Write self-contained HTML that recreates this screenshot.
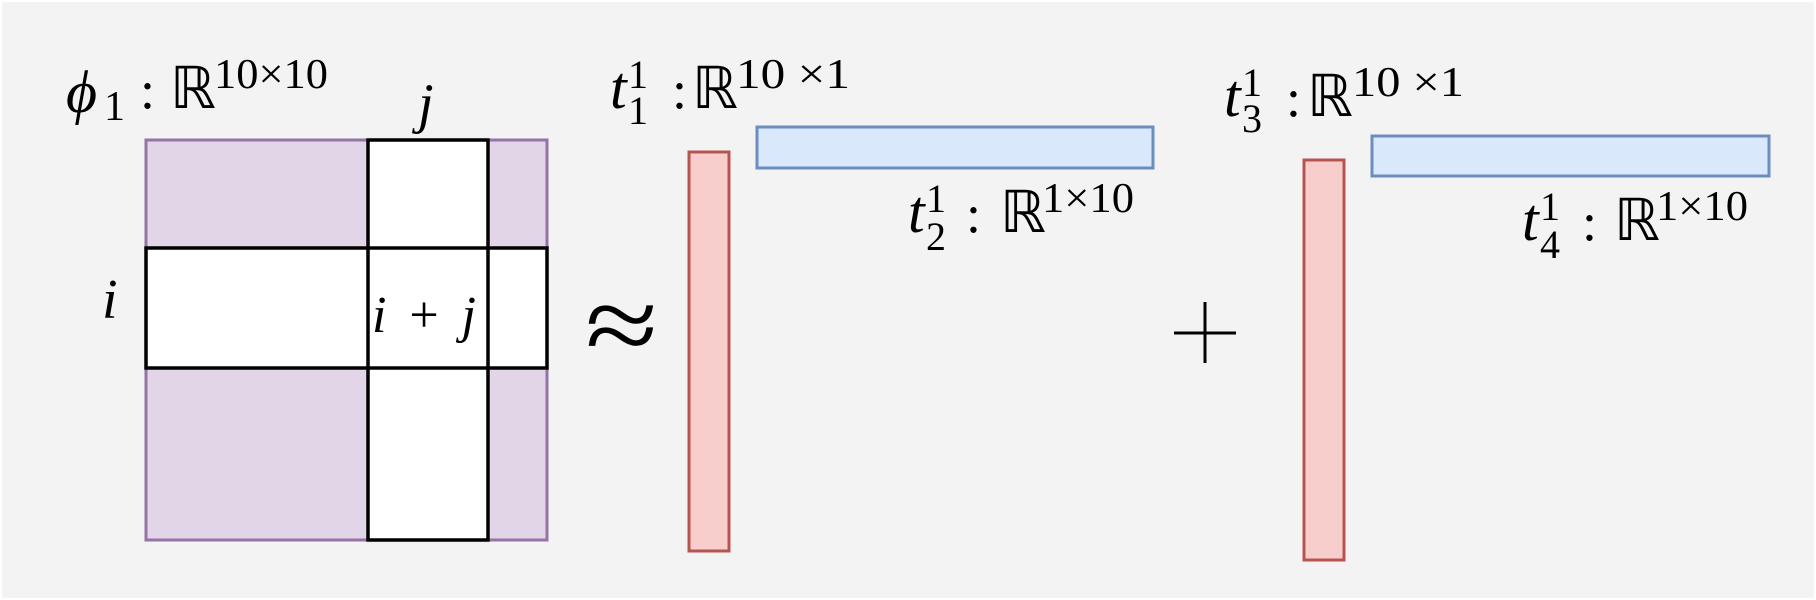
<!DOCTYPE html>
<html><head><meta charset="utf-8"><style>
html,body{margin:0;padding:0;background:#fff;}
svg{display:block}
text{font-family:"Liberation Serif",serif;fill:#000}
.it{font-style:italic}
</style></head><body>
<svg width="1816" height="600" viewBox="0 0 1816 600" xmlns="http://www.w3.org/2000/svg">
<rect x="2" y="2" width="1812" height="596" fill="#f3f3f3"/>
<rect x="146" y="140" width="401" height="400" fill="#e1d5e7" stroke="#9673a6" stroke-width="3"/>
<rect x="368" y="140" width="120" height="400" fill="#fff" stroke="#000" stroke-width="3.5"/>
<rect x="146" y="248" width="401" height="120" fill="#fff" stroke="#000" stroke-width="3.5"/>
<line x1="368" y1="248" x2="368" y2="368" stroke="#000" stroke-width="3.5"/>
<line x1="488" y1="248" x2="488" y2="368" stroke="#000" stroke-width="3.5"/>

<text x="66" y="112" font-size="60" class="it">ϕ</text>
<text x="104" y="120" font-size="42">1</text>
<text x="140" y="108" font-size="54">:</text>
<text x="170" y="108" font-size="58" font-family="DejaVu Serif">ℝ</text>
<text x="214" y="88" font-size="42" textLength="114" lengthAdjust="spacingAndGlyphs">10×10</text>
<text x="418" y="122" font-size="56" class="it">j</text>
<text x="102" y="318" font-size="56" class="it">i</text>
<text x="372" y="332" font-size="52" textLength="104" lengthAdjust="spacing"><tspan class="it">i</tspan> + <tspan class="it">j</tspan></text>
<text x="585" y="362" font-size="110" textLength="73" lengthAdjust="spacingAndGlyphs">≈</text>

<rect x="689" y="152" width="40" height="399" fill="#f8cecc" stroke="#b85450" stroke-width="3"/>
<rect x="757" y="127" width="396" height="41" fill="#dae8fc" stroke="#6c8ebf" stroke-width="3"/>
<text x="610" y="108" font-size="60" class="it">t</text>
<text x="628" y="88" font-size="40">1</text>
<text x="628" y="124" font-size="40">1</text>
<text x="672" y="108" font-size="54">:</text>
<text x="692" y="108" font-size="58" font-family="DejaVu Serif">ℝ</text>
<text x="736" y="88" font-size="42" textLength="114" lengthAdjust="spacingAndGlyphs">10 ×1</text>
<text x="908" y="232" font-size="60" class="it">t</text>
<text x="926" y="212" font-size="40">1</text>
<text x="926" y="250" font-size="40">2</text>
<text x="966" y="232" font-size="54">:</text>
<text x="1000" y="232" font-size="58" font-family="DejaVu Serif">ℝ</text>
<text x="1042" y="212" font-size="42" textLength="92" lengthAdjust="spacingAndGlyphs">1×10</text>

<line x1="1174" y1="333" x2="1236" y2="333" stroke="#000" stroke-width="3"/>
<line x1="1205" y1="302" x2="1205" y2="363" stroke="#000" stroke-width="3"/>

<rect x="1304" y="160" width="40" height="400" fill="#f8cecc" stroke="#b85450" stroke-width="3"/>
<rect x="1372" y="136" width="397" height="40" fill="#dae8fc" stroke="#6c8ebf" stroke-width="3"/>
<text x="1224" y="116" font-size="60" class="it">t</text>
<text x="1242" y="96" font-size="40">1</text>
<text x="1242" y="132" font-size="40">3</text>
<text x="1286" y="116" font-size="54">:</text>
<text x="1307" y="116" font-size="58" font-family="DejaVu Serif">ℝ</text>
<text x="1352" y="96" font-size="42" textLength="112" lengthAdjust="spacingAndGlyphs">10 ×1</text>
<text x="1522" y="240" font-size="60" class="it">t</text>
<text x="1540" y="220" font-size="40">1</text>
<text x="1540" y="258" font-size="40">4</text>
<text x="1582" y="240" font-size="54">:</text>
<text x="1614" y="240" font-size="58" font-family="DejaVu Serif">ℝ</text>
<text x="1656" y="220" font-size="42" textLength="92" lengthAdjust="spacingAndGlyphs">1×10</text>
</svg>
</body></html>
